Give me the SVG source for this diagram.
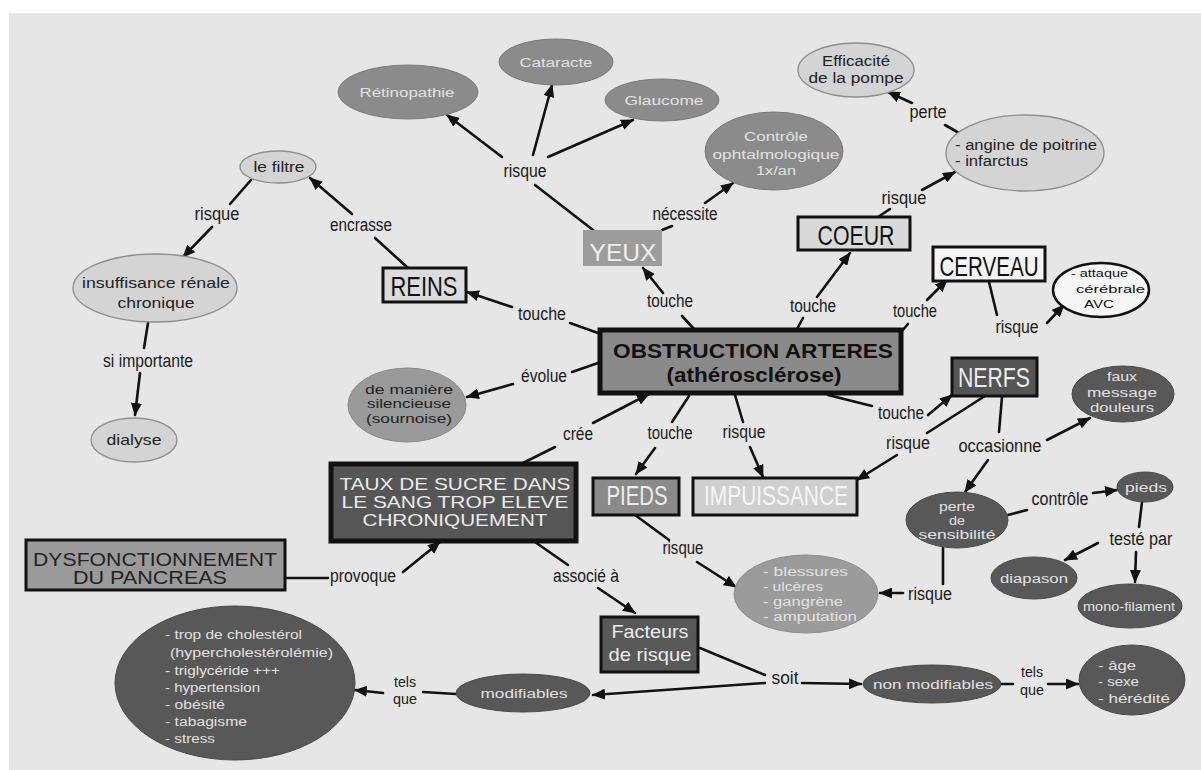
<svg xmlns="http://www.w3.org/2000/svg" width="1201" height="770" viewBox="0 0 1201 770">
  <defs>
    <marker id="arr" markerUnits="userSpaceOnUse" markerWidth="13" markerHeight="11" refX="12" refY="5.5" orient="auto">
      <path d="M0,0 L13,5.5 L0,11 Z" fill="#111"/>
    </marker>
    <style>
      text { font-family: "Liberation Sans", Arial, sans-serif; }
      .lbl { font-size: 18px; fill: #1a1a1a; text-anchor: middle; }
      .c line { stroke: #111; stroke-width: 2.6; stroke-linecap: round; }
      .c .a { marker-end: url(#arr); }
      .med { fill: #8b8b8b; stroke: #7a7a7a; stroke-width: 1; }
      .dark { fill: #585858; stroke: #4a4a4a; stroke-width: 1; }
      .light { fill: #d4d4d4; stroke: #8e8e8e; stroke-width: 1.3; }
      .t-w { font-size: 12.5px; fill: #e2e2e2; text-anchor: middle; }
      .t-d { font-size: 14px; fill: #222; text-anchor: middle; }
      .tl-w { font-size: 12.5px; fill: #e2e2e2; }
      .bx { stroke: #111; stroke-width: 3; }
      .bt { font-size: 28px; text-anchor: middle; }
    </style>
  </defs>

  <!-- page -->
  <rect x="0" y="0" width="1201" height="770" fill="#ffffff"/>
  <rect x="9" y="13" width="1192" height="757" fill="#e6e6e6"/>

  <!-- connectors -->
  <g id="connectors" class="c">
    <line x1="593" y1="230" x2="535" y2="185"/>
    <line x1="662" y1="230" x2="672" y2="226"/>
    <line x1="878" y1="217" x2="890" y2="209"/>
    <line x1="959" y1="133" x2="945" y2="125"/>
    <line x1="251" y1="180" x2="230" y2="204"/>
    <line x1="408" y1="268" x2="375" y2="238"/>
    <line x1="148" y1="323" x2="144" y2="348"/>
    <line x1="598" y1="333" x2="570" y2="323"/>
    <line x1="694" y1="329" x2="682" y2="316"/>
    <line x1="797" y1="329" x2="803" y2="318"/>
    <line x1="902" y1="331" x2="908" y2="324"/>
    <line x1="989" y1="282" x2="997" y2="315"/>
    <line x1="828" y1="395" x2="872" y2="406"/>
    <line x1="985" y1="396" x2="927" y2="433"/>
    <line x1="1002" y1="397" x2="999" y2="432"/>
    <line x1="1008" y1="515" x2="1027" y2="510"/>
    <line x1="1142" y1="502" x2="1139" y2="527"/>
    <line x1="943" y1="548" x2="943" y2="584"/>
    <line x1="635" y1="515" x2="669" y2="540"/>
    <line x1="689" y1="396" x2="672" y2="422"/>
    <line x1="735" y1="395" x2="743" y2="422"/>
    <line x1="598" y1="363" x2="572" y2="372"/>
    <line x1="523" y1="463" x2="555" y2="447"/>
    <line x1="285" y1="578" x2="328" y2="578"/>
    <line x1="535" y1="542" x2="568" y2="565"/>
    <line x1="700" y1="648" x2="765" y2="675"/>
    <line x1="456" y1="694" x2="423" y2="692"/>
    <line x1="1000" y1="684" x2="1013" y2="684"/>

    <line class="a" x1="502" y1="157" x2="447" y2="115"/>
    <line class="a" x1="533" y1="155" x2="552" y2="85"/>
    <line class="a" x1="548" y1="157" x2="633" y2="120"/>
    <line class="a" x1="705" y1="203" x2="733" y2="183"/>
    <line class="a" x1="922" y1="190" x2="955" y2="172"/>
    <line class="a" x1="912" y1="103" x2="888" y2="92"/>
    <line class="a" x1="212" y1="227" x2="183" y2="257"/>
    <line class="a" x1="352" y1="214" x2="310" y2="178"/>
    <line class="a" x1="140" y1="373" x2="135" y2="415"/>
    <line class="a" x1="512" y1="307" x2="467" y2="292"/>
    <line class="a" x1="663" y1="293" x2="643" y2="268"/>
    <line class="a" x1="817" y1="297" x2="850" y2="253"/>
    <line class="a" x1="927" y1="300" x2="947" y2="280"/>
    <line class="a" x1="1047" y1="323" x2="1064" y2="305"/>
    <line class="a" x1="928" y1="415" x2="952" y2="395"/>
    <line class="a" x1="897" y1="455" x2="857" y2="480"/>
    <line class="a" x1="1047" y1="440" x2="1090" y2="418"/>
    <line class="a" x1="988" y1="460" x2="965" y2="492"/>
    <line class="a" x1="1093" y1="493" x2="1117" y2="490"/>
    <line class="a" x1="1098" y1="543" x2="1065" y2="560"/>
    <line class="a" x1="1136" y1="552" x2="1135" y2="582"/>
    <line class="a" x1="903" y1="593" x2="880" y2="593"/>
    <line class="a" x1="697" y1="562" x2="736" y2="587"/>
    <line class="a" x1="655" y1="448" x2="636" y2="474"/>
    <line class="a" x1="750" y1="447" x2="763" y2="477"/>
    <line class="a" x1="513" y1="384" x2="467" y2="397"/>
    <line class="a" x1="593" y1="423" x2="649" y2="394"/>
    <line class="a" x1="403" y1="572" x2="440" y2="542"/>
    <line class="a" x1="598" y1="588" x2="635" y2="613"/>
    <line class="a" x1="765" y1="683" x2="593" y2="695"/>
    <line class="a" x1="802" y1="683" x2="861" y2="684"/>
    <line class="a" x1="383" y1="693" x2="355" y2="690"/>
    <line class="a" x1="1048" y1="684" x2="1078" y2="684"/>
  </g>

  <!-- link labels -->
  <g id="labels">
    <text class="lbl" x="525" y="177" textLength="43" lengthAdjust="spacingAndGlyphs">risque</text>
    <text class="lbl" x="685" y="220" textLength="65" lengthAdjust="spacingAndGlyphs">nécessite</text>
    <text class="lbl" x="904" y="204" textLength="45" lengthAdjust="spacingAndGlyphs">risque</text>
    <text class="lbl" x="928" y="118" textLength="37" lengthAdjust="spacingAndGlyphs">perte</text>
    <text class="lbl" x="217" y="220" textLength="45" lengthAdjust="spacingAndGlyphs">risque</text>
    <text class="lbl" x="361" y="231" textLength="62" lengthAdjust="spacingAndGlyphs">encrasse</text>
    <text class="lbl" x="148" y="367" textLength="90" lengthAdjust="spacingAndGlyphs">si importante</text>
    <text class="lbl" x="542" y="320" textLength="48" lengthAdjust="spacingAndGlyphs">touche</text>
    <text class="lbl" x="670" y="307" textLength="46" lengthAdjust="spacingAndGlyphs">touche</text>
    <text class="lbl" x="813" y="312" textLength="46" lengthAdjust="spacingAndGlyphs">touche</text>
    <text class="lbl" x="915" y="317" textLength="44" lengthAdjust="spacingAndGlyphs">touche</text>
    <text class="lbl" x="1017" y="333" textLength="43" lengthAdjust="spacingAndGlyphs">risque</text>
    <text class="lbl" x="901" y="419" textLength="46" lengthAdjust="spacingAndGlyphs">touche</text>
    <text class="lbl" x="908" y="449" textLength="44" lengthAdjust="spacingAndGlyphs">risque</text>
    <text class="lbl" x="1000" y="452" textLength="83" lengthAdjust="spacingAndGlyphs">occasionne</text>
    <text class="lbl" x="1060" y="505" textLength="57" lengthAdjust="spacingAndGlyphs">contrôle</text>
    <text class="lbl" x="1141" y="545" textLength="63" lengthAdjust="spacingAndGlyphs">testé par</text>
    <text class="lbl" x="930" y="600" textLength="44" lengthAdjust="spacingAndGlyphs">risque</text>
    <text class="lbl" x="683" y="554" textLength="41" lengthAdjust="spacingAndGlyphs">risque</text>
    <text class="lbl" x="670" y="439" textLength="45" lengthAdjust="spacingAndGlyphs">touche</text>
    <text class="lbl" x="744" y="438" textLength="43" lengthAdjust="spacingAndGlyphs">risque</text>
    <text class="lbl" x="544" y="382" textLength="46" lengthAdjust="spacingAndGlyphs">évolue</text>
    <text class="lbl" x="578" y="440" textLength="30" lengthAdjust="spacingAndGlyphs">crée</text>
    <text class="lbl" x="363" y="582" textLength="66" lengthAdjust="spacingAndGlyphs">provoque</text>
    <text class="lbl" x="586" y="582" textLength="66" lengthAdjust="spacingAndGlyphs">associé à</text>
    <text class="lbl" x="785" y="684" textLength="27" lengthAdjust="spacingAndGlyphs">soit</text>
    <text class="lbl" x="405" y="687" style="font-size:15px" textLength="22" lengthAdjust="spacingAndGlyphs">tels</text>
    <text class="lbl" x="405" y="704" style="font-size:15px" textLength="24" lengthAdjust="spacingAndGlyphs">que</text>
    <text class="lbl" x="1032" y="677" style="font-size:15px" textLength="22" lengthAdjust="spacingAndGlyphs">tels</text>
    <text class="lbl" x="1032" y="695" style="font-size:15px" textLength="24" lengthAdjust="spacingAndGlyphs">que</text>
  </g>

  <!-- central concept -->
  <g id="obstruction">
    <rect x="600" y="330" width="301" height="63" fill="#8a8a8a" stroke="#111" stroke-width="5"/>
    <text x="753" y="358" text-anchor="middle" font-size="20" font-weight="bold" fill="#111" textLength="280" lengthAdjust="spacingAndGlyphs">OBSTRUCTION ARTERES</text>
    <text x="754" y="382" text-anchor="middle" font-size="20" font-weight="bold" fill="#111" textLength="175" lengthAdjust="spacingAndGlyphs">(athérosclérose)</text>
  </g>

  <!-- eyes -->
  <g id="yeux">
    <rect x="583" y="230" width="79" height="36" fill="#9c9c9c"/>
    <text x="623" y="261" text-anchor="middle" font-size="24" fill="#efefef" textLength="67" lengthAdjust="spacingAndGlyphs">YEUX</text>
  </g>
  <g id="retinopathie">
    <ellipse class="med" cx="408" cy="92" rx="70" ry="27"/>
    <text class="t-w" x="407" y="97" textLength="95" lengthAdjust="spacingAndGlyphs">Rétinopathie</text>
  </g>
  <g id="cataracte">
    <ellipse class="med" cx="556" cy="62" rx="57" ry="23"/>
    <text class="t-w" x="556" y="67" textLength="73" lengthAdjust="spacingAndGlyphs">Cataracte</text>
  </g>
  <g id="glaucome">
    <ellipse class="med" cx="662" cy="100" rx="57" ry="21"/>
    <text class="t-w" x="664" y="105" textLength="79" lengthAdjust="spacingAndGlyphs">Glaucome</text>
  </g>
  <g id="controle">
    <ellipse class="med" cx="774" cy="151" rx="69" ry="39"/>
    <text class="t-w" x="776" y="141" textLength="64" lengthAdjust="spacingAndGlyphs">Contrôle</text>
    <text class="t-w" x="776" y="159" textLength="127" lengthAdjust="spacingAndGlyphs">ophtalmologique</text>
    <text class="t-w" x="776" y="175" textLength="40" lengthAdjust="spacingAndGlyphs">1x/an</text>
  </g>

  <!-- heart -->
  <g id="coeur">
    <rect class="bx" x="798" y="217" width="112" height="33" fill="#d9d9d9"/>
    <text class="bt" x="856" y="245" fill="#111" textLength="77" lengthAdjust="spacingAndGlyphs">COEUR</text>
  </g>
  <g id="angine">
    <ellipse class="light" cx="1025" cy="153" rx="79" ry="38"/>
    <text x="955" y="150" font-size="14" fill="#222" textLength="142" lengthAdjust="spacingAndGlyphs">- angine de poitrine</text>
    <text x="955" y="166" font-size="14" fill="#222" textLength="73" lengthAdjust="spacingAndGlyphs">- infarctus</text>
  </g>
  <g id="efficacite">
    <ellipse class="light" cx="856" cy="70" rx="58" ry="27"/>
    <text class="t-d" x="856" y="66" textLength="68" lengthAdjust="spacingAndGlyphs">Efficacité</text>
    <text class="t-d" x="856" y="83" textLength="95" lengthAdjust="spacingAndGlyphs">de la pompe</text>
  </g>

  <!-- brain -->
  <g id="cerveau">
    <rect class="bx" x="933" y="247" width="112" height="34" fill="#f4f4f4"/>
    <text class="bt" x="989" y="276" fill="#111" textLength="99" lengthAdjust="spacingAndGlyphs">CERVEAU</text>
  </g>
  <g id="avc">
    <ellipse cx="1101" cy="290" rx="48" ry="27" fill="#f6f6f6" stroke="#111" stroke-width="2.5"/>
    <text x="1071" y="277" font-size="11" fill="#111" textLength="57" lengthAdjust="spacingAndGlyphs">- attaque</text>
    <text x="1076" y="293" font-size="11" fill="#111" textLength="69" lengthAdjust="spacingAndGlyphs">cérébrale</text>
    <text x="1084" y="308" font-size="11" fill="#111" textLength="30" lengthAdjust="spacingAndGlyphs">AVC</text>
  </g>

  <!-- kidneys -->
  <g id="reins">
    <rect class="bx" x="383" y="268" width="83" height="34" fill="#dcdcdc" stroke-width="2.5"/>
    <text class="bt" x="424" y="296" fill="#111" textLength="67" lengthAdjust="spacingAndGlyphs">REINS</text>
  </g>
  <g id="filtre">
    <ellipse class="light" cx="278" cy="167" rx="38" ry="16"/>
    <text class="t-d" x="279" y="172" textLength="51" lengthAdjust="spacingAndGlyphs">le filtre</text>
  </g>
  <g id="insuffisance">
    <ellipse class="light" cx="155" cy="288" rx="82" ry="34"/>
    <text x="156" y="288" text-anchor="middle" font-size="15" fill="#222" textLength="148" lengthAdjust="spacingAndGlyphs">insuffisance rénale</text>
    <text x="156" y="308" text-anchor="middle" font-size="15" fill="#222" textLength="77" lengthAdjust="spacingAndGlyphs">chronique</text>
  </g>
  <g id="dialyse">
    <ellipse class="light" cx="134" cy="440" rx="43" ry="22"/>
    <text x="134" y="445" text-anchor="middle" font-size="15" fill="#222" textLength="55" lengthAdjust="spacingAndGlyphs">dialyse</text>
  </g>

  <!-- silent evolution -->
  <g id="silencieuse">
    <ellipse cx="407" cy="405" rx="59" ry="37" fill="#9a9a9a" stroke="#8a8a8a" stroke-width="1"/>
    <text x="409" y="394" text-anchor="middle" font-size="13" fill="#222" textLength="88" lengthAdjust="spacingAndGlyphs">de manière</text>
    <text x="409" y="408" text-anchor="middle" font-size="13" fill="#222" textLength="84" lengthAdjust="spacingAndGlyphs">silencieuse</text>
    <text x="409" y="423" text-anchor="middle" font-size="13" fill="#222" textLength="86" lengthAdjust="spacingAndGlyphs">(sournoise)</text>
  </g>

  <!-- nerves -->
  <g id="nerfs">
    <rect class="bx" x="952" y="358" width="85" height="38" fill="#555555"/>
    <text class="bt" x="994" y="387" fill="#eeeeee" textLength="72" lengthAdjust="spacingAndGlyphs">NERFS</text>
  </g>
  <g id="faux-message">
    <ellipse class="dark" cx="1123" cy="394" rx="51" ry="28"/>
    <text class="t-w" x="1122" y="381" textLength="30" lengthAdjust="spacingAndGlyphs">faux</text>
    <text class="t-w" x="1122" y="397" textLength="70" lengthAdjust="spacingAndGlyphs">message</text>
    <text class="t-w" x="1122" y="412" textLength="64" lengthAdjust="spacingAndGlyphs">douleurs</text>
  </g>
  <g id="perte-sensibilite">
    <ellipse class="dark" cx="957" cy="520" rx="51" ry="28"/>
    <text class="t-w" x="957" y="511" textLength="36" lengthAdjust="spacingAndGlyphs">perte</text>
    <text class="t-w" x="957" y="525" textLength="16" lengthAdjust="spacingAndGlyphs">de</text>
    <text class="t-w" x="957" y="539" textLength="77" lengthAdjust="spacingAndGlyphs">sensibilité</text>
  </g>
  <g id="pieds-controle">
    <ellipse class="dark" cx="1145" cy="487" rx="28" ry="15"/>
    <text class="t-w" x="1146" y="492" textLength="42" lengthAdjust="spacingAndGlyphs">pieds</text>
  </g>
  <g id="diapason">
    <ellipse class="dark" cx="1034" cy="578" rx="43" ry="21"/>
    <text class="t-w" x="1034" y="583" textLength="68" lengthAdjust="spacingAndGlyphs">diapason</text>
  </g>
  <g id="mono-filament">
    <ellipse class="dark" cx="1130" cy="606" rx="52" ry="22"/>
    <text class="t-w" x="1129" y="611" textLength="92" lengthAdjust="spacingAndGlyphs">mono-filament</text>
  </g>

  <!-- feet and impotence -->
  <g id="pieds">
    <rect class="bx" x="593" y="478" width="86" height="37" fill="#8a8a8a"/>
    <text class="bt" x="637" y="505" fill="#eeeeee" textLength="61" lengthAdjust="spacingAndGlyphs">PIEDS</text>
  </g>
  <g id="impuissance">
    <rect class="bx" x="693" y="478" width="164" height="37" fill="#cfcfcf"/>
    <text class="bt" x="776" y="505" fill="#f6f6f6" textLength="144" lengthAdjust="spacingAndGlyphs">IMPUISSANCE</text>
  </g>
  <g id="blessures">
    <ellipse cx="806" cy="594" rx="72" ry="39" fill="#9b9b9b" stroke="#8d8d8d" stroke-width="1"/>
    <text class="tl-w" x="763" y="576" textLength="85" lengthAdjust="spacingAndGlyphs">- blessures</text>
    <text class="tl-w" x="763" y="591" textLength="60" lengthAdjust="spacingAndGlyphs">- ulcères</text>
    <text class="tl-w" x="763" y="606" textLength="80" lengthAdjust="spacingAndGlyphs">- gangrène</text>
    <text class="tl-w" x="763" y="621" textLength="94" lengthAdjust="spacingAndGlyphs">- amputation</text>
  </g>

  <!-- blood sugar -->
  <g id="taux-sucre">
    <rect x="331" y="464" width="245" height="77" fill="#565656" stroke="#111" stroke-width="5"/>
    <text x="455" y="490" text-anchor="middle" font-size="17" fill="#ececec" textLength="231" lengthAdjust="spacingAndGlyphs">TAUX DE SUCRE DANS</text>
    <text x="455" y="508" text-anchor="middle" font-size="17" fill="#ececec" textLength="227" lengthAdjust="spacingAndGlyphs">LE SANG TROP ELEVE</text>
    <text x="455" y="526" text-anchor="middle" font-size="17" fill="#ececec" textLength="185" lengthAdjust="spacingAndGlyphs">CHRONIQUEMENT</text>
  </g>
  <g id="pancreas">
    <rect class="bx" x="26" y="540" width="259" height="50" fill="#9a9a9a"/>
    <text x="155" y="566" text-anchor="middle" font-size="18" fill="#222" textLength="244" lengthAdjust="spacingAndGlyphs">DYSFONCTIONNEMENT</text>
    <text x="150" y="584" text-anchor="middle" font-size="18" fill="#222" textLength="154" lengthAdjust="spacingAndGlyphs">DU PANCREAS</text>
  </g>

  <!-- risk factors -->
  <g id="facteurs">
    <rect class="bx" x="601" y="617" width="97" height="55" fill="#585858"/>
    <text x="650" y="638" text-anchor="middle" font-size="19" fill="#eeeeee" textLength="77" lengthAdjust="spacingAndGlyphs">Facteurs</text>
    <text x="650" y="661" text-anchor="middle" font-size="19" fill="#eeeeee" textLength="83" lengthAdjust="spacingAndGlyphs">de risque</text>
  </g>
  <g id="modifiables">
    <ellipse class="dark" cx="523" cy="693" rx="67" ry="19"/>
    <text class="t-w" x="524" y="698" textLength="87" lengthAdjust="spacingAndGlyphs">modifiables</text>
  </g>
  <g id="liste-modifiables">
    <ellipse class="dark" cx="235" cy="683" rx="120" ry="77"/>
    <text class="tl-w" x="165" y="639" textLength="137" lengthAdjust="spacingAndGlyphs">- trop de cholestérol</text>
    <text class="tl-w" x="170" y="657" textLength="163" lengthAdjust="spacingAndGlyphs">(hypercholestérolémie)</text>
    <text class="tl-w" x="165" y="675" textLength="115" lengthAdjust="spacingAndGlyphs">- triglycéride +++</text>
    <text class="tl-w" x="165" y="692" textLength="95" lengthAdjust="spacingAndGlyphs">- hypertension</text>
    <text class="tl-w" x="165" y="709" textLength="60" lengthAdjust="spacingAndGlyphs">- obésité</text>
    <text class="tl-w" x="165" y="726" textLength="82" lengthAdjust="spacingAndGlyphs">- tabagisme</text>
    <text class="tl-w" x="165" y="743" textLength="50" lengthAdjust="spacingAndGlyphs">- stress</text>
  </g>
  <g id="non-modifiables">
    <ellipse class="dark" cx="932" cy="684" rx="69" ry="19"/>
    <text class="t-w" x="933" y="689" textLength="120" lengthAdjust="spacingAndGlyphs">non modifiables</text>
  </g>
  <g id="age-sexe">
    <ellipse class="dark" cx="1132" cy="680" rx="53" ry="35"/>
    <text class="tl-w" x="1098" y="670" font-size="14" textLength="38" lengthAdjust="spacingAndGlyphs">- âge</text>
    <text class="tl-w" x="1098" y="686" font-size="14" textLength="41" lengthAdjust="spacingAndGlyphs">- sexe</text>
    <text class="tl-w" x="1098" y="703" font-size="14" textLength="72" lengthAdjust="spacingAndGlyphs">- hérédité</text>
  </g>
</svg>
